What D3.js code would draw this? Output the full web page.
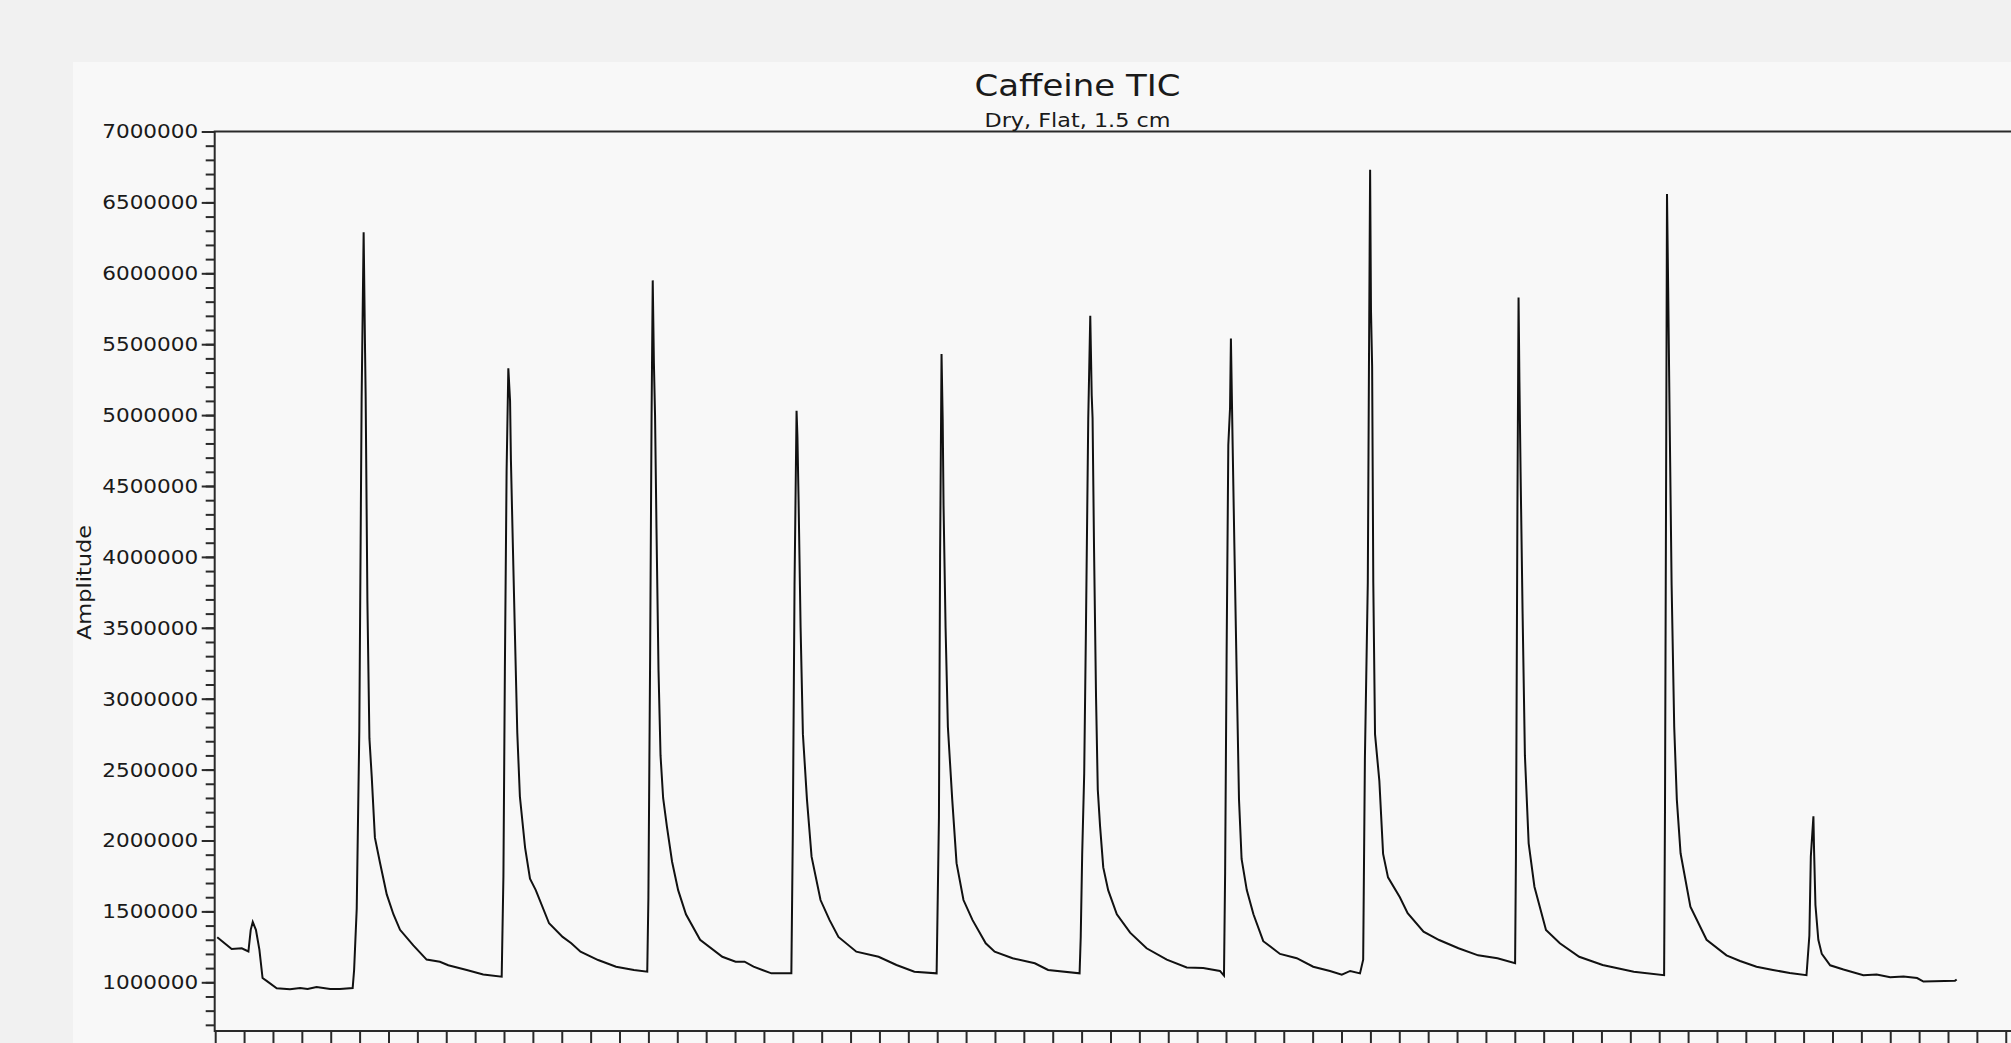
<!DOCTYPE html>
<html>
<head>
<meta charset="utf-8">
<script src="https://cdnjs.cloudflare.com/ajax/libs/d3/7.8.5/d3.min.js"></script>
<style>
  body { margin: 0; background-color: #f1f1f1; overflow: hidden; }
  text { font-family: "DejaVu Sans", Verdana, sans-serif; fill: #1a1a1a; }
</style>
</head>
<body>
<script>
// Caffeine TIC trace
// scan number (x) and amplitude (y)

let scans = [
    0.7, 5.7, 9.2, 11.5, 12.3, 13.0, 14.1, 15.3, 16.4, 17.8, 21.3, 25.9, 29.4, 32.0, 35.1, 39.8, 43.2, 47.6,
    48.1, 49.0, 49.9, 50.7, 51.4, 51.9, 52.1, 52.7, 53.4, 54.2, 55.3, 57.1, 59.4, 61.7, 64.0, 68.6, 73.2, 77.8, 80.7, 87.1, 92.8, 99.2,
    99.8, 100.3, 100.9, 101.5, 102.1, 102.4, 103.0, 103.8, 104.6, 105.5, 107.3, 109.0, 111.0, 115.6, 120.3, 123.3, 126.5, 132.6, 138.8, 145.0, 149.6,
    150.0, 150.6, 151.1, 151.5, 151.9, 152.3, 152.8, 153.5, 154.2, 155.1, 156.4, 158.2, 160.3, 163.0, 167.9, 175.6, 180.2, 183.3, 186.4, 192.6, 199.5,
    200.0, 200.6, 201.3, 201.6, 202.0, 202.7, 203.5, 204.9, 206.5, 209.6, 212.7, 215.8, 222.0, 229.7, 235.9, 242.1, 249.8,
    250.6, 251.0, 251.5, 251.9, 252.2, 252.9, 253.7, 255.2, 256.7, 259.1, 262.2, 266.8, 269.9, 276.1, 283.8, 288.4, 299.3,
    299.7, 300.2, 300.9, 301.5, 302.3, 303.0, 303.5, 303.8, 304.3, 305.0, 305.6, 306.4, 307.5, 309.2, 312.2, 316.8, 322.5, 329.5, 336.4, 342.1, 347.9, 349.3,
    349.7, 350.2, 350.8, 351.4, 351.7, 352.3, 352.9, 353.7, 354.5, 355.4, 357.2, 359.5, 362.9, 368.7, 374.5, 380.2, 386.0, 390.1, 393.0, 396.4,
    397.5, 398.1, 399.1, 399.5, 399.9, 400.2, 400.6, 401.0, 401.6, 403.1, 404.4, 406.1, 410.2, 412.9, 418.4, 423.8, 430.5, 437.3, 444.0, 450.1,
    450.4, 450.9, 451.3, 451.6, 452.0, 452.7, 453.5, 454.8, 456.8, 460.8, 465.6, 472.3, 480.4, 491.2, 501.7,
    502.0, 502.4, 502.7, 503.1, 503.6, 504.3, 505.2, 506.1, 507.4, 510.8, 516.4, 523.3, 528.0, 533.7, 539.4, 545.2, 551.0,
    552.0, 552.5, 553.4, 553.6, 554.1, 555.1, 556.3, 559.2, 563.8, 570.7, 575.3, 580.0, 584.6, 589.3, 591.5, 602.4, 603.0
];

let amplitude = [
    1318000, 1235000, 1240000, 1217000, 1370000, 1425000, 1370000, 1230000, 1030000, 1010000, 958000, 951000, 960000, 953000, 967000, 953000, 953000, 960000,
    1087000, 1517000, 2775000, 5110000, 6290000, 5440000, 5130000, 3690000, 2720000, 2450000, 2020000, 1840000, 1620000, 1480000, 1370000, 1260000, 1160000, 1145000, 1120000, 1087000, 1055000, 1040000,
    1750000, 3190000, 4610000, 5330000, 5100000, 4680000, 4140000, 3440000, 2760000, 2310000, 1950000, 1730000, 1650000, 1416000, 1320000, 1275000, 1216000, 1157000, 1110000, 1087000, 1075000,
    1600000, 3300000, 5000000, 5950000, 5370000, 5000000, 4200000, 3200000, 2600000, 2300000, 2100000, 1850000, 1650000, 1480000, 1300000, 1180000, 1145000, 1145000, 1110000, 1063000, 1063000,
    2040000, 3800000, 5030000, 4850000, 4400000, 3500000, 2750000, 2290000, 1886000, 1580000, 1440000, 1320000, 1216000, 1180000, 1122000, 1075000, 1063000,
    2160000, 4000000, 5430000, 4970000, 4360000, 3500000, 2800000, 2290000, 1840000, 1580000, 1440000, 1275000, 1216000, 1170000, 1134000, 1087000, 1063000,
    1320000, 1900000, 2470000, 3490000, 4970000, 5700000, 5140000, 4980000, 4070000, 3010000, 2360000, 2100000, 1810000, 1650000, 1480000, 1350000, 1240000, 1160000, 1105000, 1100000, 1080000, 1047000,
    1780000, 3280000, 4790000, 5050000, 5540000, 4790000, 4080000, 3170000, 2290000, 1870000, 1650000, 1480000, 1290000, 1200000, 1170000, 1110000, 1080000, 1054000, 1080000, 1063000,
    1160000, 2585000, 3820000, 5340000, 6730000, 5740000, 5340000, 3820000, 2750000, 2420000, 1905000, 1740000, 1600000, 1487000, 1357000, 1298000, 1240000, 1190000, 1170000, 1134000,
    1900000, 4300000, 5830000, 5240000, 4600000, 3600000, 2600000, 1980000, 1674000, 1369000, 1275000, 1180000, 1122000, 1075000, 1050000,
    2200000, 4600000, 6560000, 5900000, 5000000, 3800000, 2800000, 2290000, 1910000, 1533000, 1300000, 1190000, 1150000, 1110000, 1087000, 1065000, 1050000,
    1330000, 1886000, 2170000, 1950000, 1545000, 1300000, 1200000, 1120000, 1090000, 1050000, 1055000, 1035000, 1040000, 1030000, 1005000, 1010000, 1020000
];

// axis ticks
let yTicks = [1000000, 1500000, 2000000, 2500000, 3000000, 3500000, 4000000, 4500000,
              5000000, 5500000, 6000000, 6500000, 7000000];
let yMinorTicks = d3.range(700000, 7000001, 100000);
let xTicks = d3.range(0, 650, 10);

// texts
let chartTitle = "Caffeine TIC";
let chartSubtitle = "Dry, Flat, 1.5 cm";
let yLabel = "Amplitude";

let data = scans.map(function (s, i) { return {scan: s, amp: amplitude[i]}; });

let width = 2011;
let height = 1043;

let svg = d3.select("body").append("svg")
    .attr("width", width)
    .attr("height", height)

// chart panel
svg.append("rect")
    .attr("x", 73)
    .attr("y", 62)
    .attr("width", width)
    .attr("height", height)
    .style("fill", "#f8f8f8")

// scales
let x = d3.scaleLinear()
    .domain([0, 650])
    .range([215.2, 215.2 + 650 * 2.888]);

let y = d3.scaleLinear()
    .domain([656500, 7000000])
    .range([1031, 131.5]);

// plot frame
svg.append("rect")
    .attr("x", x(0) - 0.5)
    .attr("y", y(7000000))
    .attr("width", x(650) - x(0))
    .attr("height", y(656500) - y(7000000))
    .style("fill", "none")
    .style("stroke", "#2a2a2a")
    .style("stroke-width", 2)

// minor y ticks
svg.append("g")
    .attr("transform", "translate(" + (x(0) - 0.5) + ",0)")
    .call(d3.axisLeft(y).tickValues(yMinorTicks).tickSize(9).tickFormat(""))
    .call(function (g) { g.select(".domain").remove(); })
    .selectAll("line")
        .style("stroke", "#2a2a2a")
        .style("stroke-width", 2)

// major y ticks + labels
let yAxis = svg.append("g")
    .attr("transform", "translate(" + (x(0) - 0.5) + ",0)")
    .call(d3.axisLeft(y).tickValues(yTicks).tickSize(13).tickPadding(3.5).tickFormat(d3.format("d")))
    .call(function (g) { g.select(".domain").remove(); })

yAxis.selectAll("line")
    .style("stroke", "#2a2a2a")
    .style("stroke-width", 2)

yAxis.selectAll("text")
    .style("font-size", "20px")
    .style("font-family", "'DejaVu Sans', Verdana, sans-serif")
    .style("fill", "#1a1a1a")
    .attr("textLength", 96)
    .attr("lengthAdjust", "spacingAndGlyphs")

// x ticks (labels fall below the visible area)
svg.append("g")
    .attr("transform", "translate(0," + y(656500) + ")")
    .call(d3.axisBottom(x).tickValues(xTicks).tickSize(16).tickFormat(""))
    .call(function (g) { g.select(".domain").remove(); })
    .selectAll("line")
        .style("stroke", "#2a2a2a")
        .style("stroke-width", 2)

// trace
let line = d3.line()
    .x(function (d) { return x(d.scan); })
    .y(function (d) { return y(d.amp); });

svg.append("path")
    .datum(data)
    .attr("d", line)
    .style("fill", "none")
    .style("stroke", "#111")
    .style("stroke-width", 2)
    .style("stroke-linejoin", "miter")

// titles
svg.append("text")
    .text(chartTitle)
    .attr("x", 1077.5)
    .attr("y", 96)
    .attr("text-anchor", "middle")
    .attr("textLength", 206)
    .attr("lengthAdjust", "spacingAndGlyphs")
    .style("font-size", "31px")

svg.append("text")
    .text(chartSubtitle)
    .attr("x", 1077.5)
    .attr("y", 126.5)
    .attr("text-anchor", "middle")
    .attr("textLength", 186)
    .attr("lengthAdjust", "spacingAndGlyphs")
    .style("font-size", "19.5px")

// y axis title
svg.append("text")
    .text(yLabel)
    .attr("transform", "translate(90.5,582.5) rotate(-90)")
    .attr("text-anchor", "middle")
    .attr("textLength", 115)
    .attr("lengthAdjust", "spacingAndGlyphs")
    .style("font-size", "19px")
</script>
</body>
</html>
